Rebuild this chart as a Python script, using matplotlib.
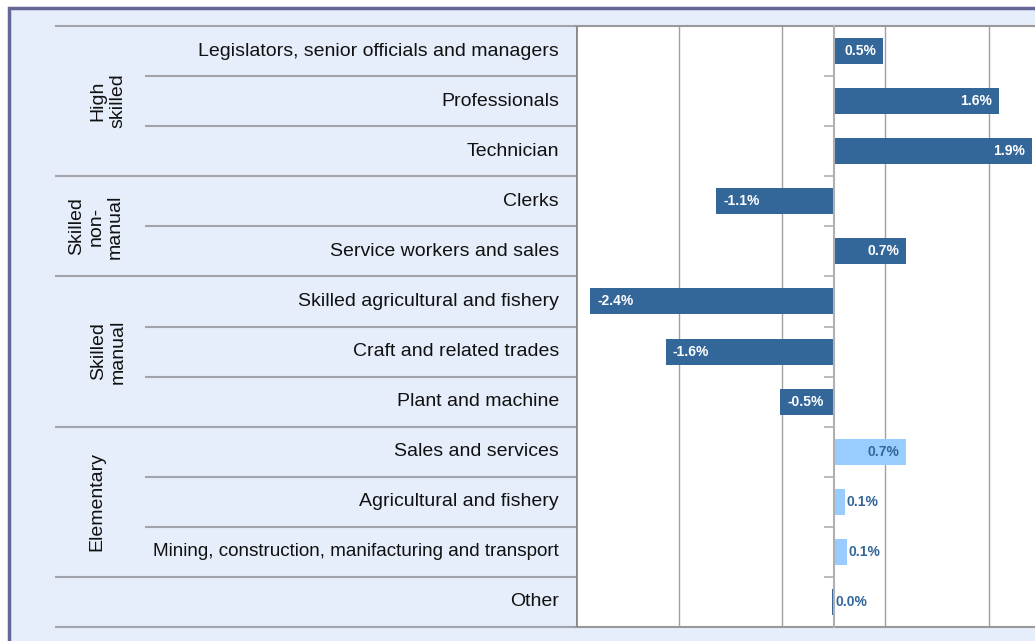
import numpy as np
import matplotlib.pyplot as plt
from matplotlib.patches import Rectangle

plt.rcParams['font.family'] = ['Liberation Sans', 'DejaVu Sans']

# Data
categories = ["Legislators, senior officials and managers", "Professionals", "Technician",
              "Clerks", "Service workers and sales",
              "Skilled agricultural and fishery", "Craft and related trades", "Plant and machine",
              "Sales and services", "Agricultural and fishery",
              "Mining, construction, manifacturing and transport",
              "Other"]
values = [0.48, 1.60, 1.92, -1.14, 0.70, -2.36, -1.63, -0.52, 0.70, 0.11, 0.13, -0.02]
series = ['main'] * 8 + ['elementary'] * 3 + ['main']
groups = ["High\nskilled", "Skilled\nnon-\nmanual", "Skilled\nmanual", "Elementary", ""]
group_sizes = [3, 2, 3, 3, 1]

# Styles
W, H = 1035, 641
bg = '#E6EEFB'
dark = '#336699'
light = '#99CCFF'
line_col = '#A3A3AB'
bar_col = {'main': dark, 'elementary': light}
text_col = {'main': 'white', 'elementary': dark}
group_x = [108, 96, 108, 97, 0]

fig = plt.figure(figsize=(W / 100, H / 100), dpi=100)
fig.patch.set_facecolor('white')
fig.patches.append(Rectangle((8.5 / W, -0.1), 1.2, (H - 8) / H + 0.1, transform=fig.transFigure,
                             facecolor=bg, edgecolor='#666699', lw=2.5, zorder=-10))

top, bottom, split = 26, 627, 576
n = len(categories)
y = np.arange(n) + 0.5

# label panel
lax = fig.add_axes([0, 1 - bottom / H, split / W, (bottom - top) / H])
lax.set_xlim(0, split)
lax.set_ylim(n, 0)
lax.axis('off')
lax.patch.set_alpha(0)
bounds = np.concatenate([[0], np.cumsum(group_sizes)])
for r in range(n + 1):
    x0 = 55 if r in bounds else 145
    lax.plot([x0, split], [r, r], color=line_col, lw=1.5, solid_capstyle='butt', clip_on=False)
for yy, c in zip(y, categories):
    lax.text(559, yy, c, ha='right', va='center', fontsize=14 if len(c) < 45 else 13.6,
             color='#111111')
for g, gx, a, b in zip(groups, group_x, bounds[:-1], bounds[1:]):
    if g:
        lax.text(gx, (a + b) / 2, g, rotation=90, ha='center', va='center',
                 multialignment='center', fontsize=14, color='#111111', linespacing=1.2)

# bar panel
ax = fig.add_axes([split / W, 1 - bottom / H, (W - split) / W, (bottom - top) / H])
ax.set_facecolor('white')
ax.set_xlim(-2.5, 1.95)
ax.set_ylim(n, 0)
ax.barh(y, values, height=0.52, color=[bar_col[s] for s in series], zorder=2)

ax.set_xticks([-2.5, -1.5, -0.5, 0.5, 1.5])
ax.grid(axis='x', color='#A0A0A0', lw=1)
ax.set_axisbelow(True)
ax.tick_params(axis='x', length=0, labelbottom=False)

ax.spines['left'].set_position(('data', 0))
ax.spines['left'].set_color('#B0B0B0')
ax.spines['left'].set_linewidth(1.5)
ax.spines['left'].set_zorder(3)
ax.set_yticks(np.arange(1, n))
ax.tick_params(axis='y', direction='out', length=7, width=1.2, color='#B0B0B0', labelleft=False)
ax.spines['right'].set_visible(False)
for s in ['top', 'bottom']:
    ax.spines[s].set_color('#999999')
    ax.spines[s].set_linewidth(1.5)
ax.axvline(-2.5, color='#8A8A8A', lw=2, zorder=4)

for yy, v, s in zip(y, values, series):
    lab = f"{v:.1f}%".replace("-0.0", "0.0")
    if abs(v) >= 0.3:
        off, ha = (-7, 'right') if v > 0 else (7, 'left')
        ax.annotate(lab, (v, yy), xytext=(off, 0), textcoords='offset pixels', ha=ha, va='center',
                    fontsize=10, fontweight='bold', color=text_col[s], zorder=5)
    else:
        ax.annotate(lab, (max(v, 0), yy), xytext=(1.5, 0), textcoords='offset pixels', ha='left',
                    va='center', fontsize=10, fontweight='bold', color=dark, zorder=5)

fig.savefig('out.png', dpi=100, facecolor=fig.get_facecolor())
